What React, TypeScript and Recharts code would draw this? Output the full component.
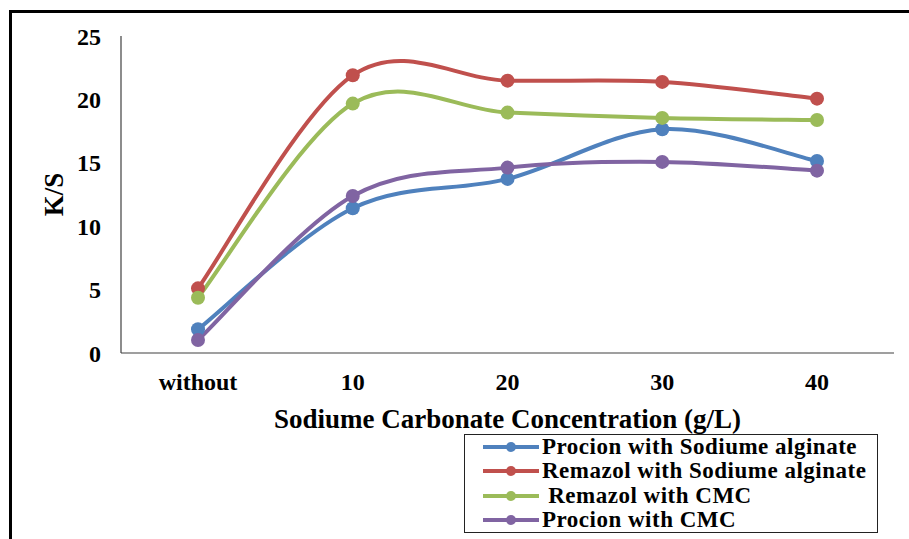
import React from 'react';
import { LineChart, Line, XAxis, YAxis, Legend } from 'recharts';

const categories = ['without', '10', '20', '30', '40'];
const procionAlginate = [1.87, 11.42, 13.73, 17.65, 15.14];
const remazolAlginate = [5.1, 21.9, 21.48, 21.38, 20.06];
const remazolCMC = [4.36, 19.67, 18.96, 18.54, 18.38];
const procionCMC = [1.02, 12.38, 14.62, 15.07, 14.38];
const yTicks = [0, 5, 10, 15, 20, 25];

const seriesNames = [
  'Procion with Sodiume alginate',
  'Remazol with Sodiume alginate',
  ' Remazol with CMC',
  'Procion with CMC',
];
const seriesColors = ['#4F81BD', '#C0504D', '#9BBB59', '#8064A2'];
const seriesKeys = ['pa', 'ra', 'rc', 'pc'];

const chartData = categories.map((c, i) => ({
  cat: c,
  pa: procionAlginate[i],
  ra: remazolAlginate[i],
  rc: remazolCMC[i],
  pc: procionCMC[i],
}));

const FONT = '"Liberation Serif", "Times New Roman", serif';

// Excel-like smoothing (Catmull-Rom bezier)
const excelCurve: any = (context: any) => {
  let pts: number[][] = [];
  return {
    areaStart() {},
    areaEnd() {},
    lineStart() {
      pts = [];
    },
    point(x: number, y: number) {
      pts.push([+x, +y]);
    },
    lineEnd() {
      if (!pts.length) return;
      context.moveTo(pts[0][0], pts[0][1]);
      for (let i = 0; i < pts.length - 1; i++) {
        const p0 = pts[i - 1] || pts[i];
        const p1 = pts[i];
        const p2 = pts[i + 1];
        const p3 = pts[i + 2] || p2;
        const c1x = p1[0] + (p2[0] - p0[0]) / 6;
        const c1y = p1[1] + (p2[1] - p0[1]) / 6;
        const c2x = p2[0] - (p3[0] - p1[0]) / 6;
        const c2y = p2[1] - (p3[1] - p1[1]) / 6;
        context.bezierCurveTo(c1x, c1y, c2x, c2y, p2[0], p2[1]);
      }
    },
  };
};

const renderLegend = (props: any) => {
  const payload = [...(props.payload || [])].sort(
    (a: any, b: any) => seriesNames.indexOf(a.value) - seriesNames.indexOf(b.value)
  );
  return (
    <div
      style={{
        width: 412,
        height: 97,
        border: '1.5px solid #222',
        background: '#fff',
        boxSizing: 'content-box',
      }}
    >
      {payload.map((p: any, i: number) => (
        <div
          key={i}
          style={{ display: 'flex', alignItems: 'center', height: 24.5, marginTop: i === 0 ? -0.5 : 0 }}
        >
          <svg width={56} height={24} style={{ marginLeft: 18, flex: 'none' }}>
            <line x1={0} y1={12} x2={56} y2={12} stroke={p.color} strokeWidth={4} />
            <circle cx={28} cy={12} r={5} fill={p.color} />
          </svg>
          <span
            style={{
              marginLeft: 3,
              fontFamily: FONT,
              fontWeight: 'bold',
              fontSize: 23,
              letterSpacing: 0.5,
              whiteSpace: 'pre',
              color: '#000',
              lineHeight: '24px',
            }}
          >
            {p.value}
          </span>
        </div>
      ))}
    </div>
  );
};

const renderXTitle = (props: any) => {
  const vb = props.viewBox || { x: 121, y: 353, width: 773, height: 80 };
  return (
    <text
      x={vb.x + vb.width / 2}
      y={vb.y + 75}
      textAnchor="middle"
      fontFamily={FONT}
      fontWeight="bold"
      fontSize={27}
      fill="#000"
    >
      Sodiume Carbonate Concentration (g/L)
    </text>
  );
};

const renderYTitle = (props: any) => {
  const vb = props.viewBox || { x: 0, y: 36, width: 121, height: 317 };
  const x = vb.x + 63;
  const y = vb.y + vb.height / 2;
  return (
    <text
      transform={`translate(${x},${y}) rotate(-90)`}
      textAnchor="middle"
      fontFamily={FONT}
      fontWeight="bold"
      fontSize={27}
      fill="#000"
    >
      K/S
    </text>
  );
};

export default function App() {
  return (
    <div
      style={{
        position: 'absolute',
        left: 0,
        top: 0,
        width: 909,
        height: 539,
        overflow: 'hidden',
        background: '#fff',
      }}
    >
      <div
        style={{
          position: 'absolute',
          left: 9,
          top: 10,
          width: 1000,
          height: 700,
          border: '3px solid #000',
        }}
      />
      <div style={{ position: 'absolute', left: 0, top: 0 }}>
        <LineChart
          width={909}
          height={539}
          data={chartData}
          margin={{ top: 36, right: 15, bottom: 106, left: 0 }}
        >
          <XAxis
            dataKey="cat"
            height={80}
            padding={{ left: 77, right: 77 }}
            tickLine={false}
            tickSize={0}
            tickMargin={20}
            axisLine={{ stroke: '#404040', strokeWidth: 1.2 }}
            tick={{ fontFamily: FONT, fontSize: 24, fontWeight: 'bold', fill: '#000' }}
            interval={0}
            label={renderXTitle}
          />
          <YAxis
            width={121}
            domain={[0, 25]}
            ticks={yTicks}
            tickLine={false}
            tickSize={0}
            tickMargin={20}
            axisLine={{ stroke: '#404040', strokeWidth: 1.2 }}
            tick={{ fontFamily: FONT, fontSize: 24, fontWeight: 'bold', fill: '#000' }}
            label={renderYTitle}
          />
          <Legend
            layout="vertical"
            align="center"
            verticalAlign="middle"
            wrapperStyle={{ left: 464, top: 434, width: 416, height: 101 }}
            content={renderLegend}
          />
          {seriesKeys.map((k, i) => (
            <Line
              key={k}
              dataKey={k}
              name={seriesNames[i]}
              type={excelCurve}
              stroke={seriesColors[i]}
              strokeWidth={4}
              dot={{ r: 7, fill: seriesColors[i], stroke: seriesColors[i], strokeWidth: 0 }}
              activeDot={false}
              isAnimationActive={false}
            />
          ))}
        </LineChart>
      </div>
    </div>
  );
}
